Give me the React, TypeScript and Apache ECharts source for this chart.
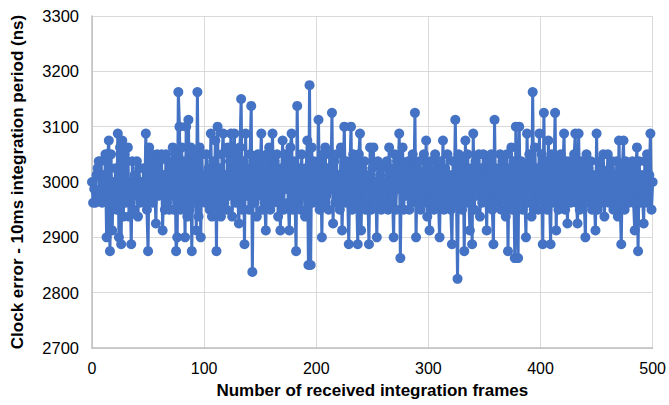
import React, { useEffect, useRef } from "react";
import * as echarts from "echarts";

const xTicks = [0, 100, 200, 300, 400, 500];
const yTicks = [2700, 2800, 2900, 3000, 3100, 3200, 3300];

const clockError: number[] = [
  3000, 2962.5, 2987.5, 2962.5, 3012.5, 3025, 3037.5, 2975, 3037.5, 2962.5, 3012.5, 2975, 3050, 2900, 3050, 3075, 2875, 3050, 2912.5, 3000,
  2962.5, 3025, 2950, 3087.5, 2900, 3062.5, 2887.5, 3075, 2937.5, 3050, 2962.5, 3037.5, 3062.5, 2937.5, 3000, 2887.5, 3037.5, 2950, 3012.5, 2975,
  3037.5, 2937.5, 3025, 2962.5, 3000, 2975, 3025, 2962.5, 3087.5, 2950, 2875, 3062.5, 2975, 3050, 2962.5, 3037.5, 2987.5, 2925, 3050, 2975,
  3037.5, 2987.5, 3050, 2912.5, 3012.5, 2950, 3050, 2962.5, 3037.5, 2950, 3025, 2975, 3062.5, 2950, 3050, 2875, 2900, 3162.5, 3100, 2950,
  3062.5, 2962.5, 3037.5, 2900, 3100, 2937.5, 3112.5, 2950, 3062.5, 2875, 3050, 2962.5, 3037.5, 2912.5, 3162.5, 2937.5, 3062.5, 2900, 3050, 2975,
  3012.5, 2962.5, 3050, 2975, 3025, 2950, 3087.5, 2937.5, 3037.5, 2962.5, 3075, 2875, 3100, 2950, 3025, 2937.5, 3050, 3087.5, 2962.5, 3012.5,
  2950, 3062.5, 2975, 3037.5, 3087.5, 2937.5, 3012.5, 3087.5, 2962.5, 3050, 2975, 2925, 3062.5, 3150, 2950, 3037.5, 2887.5, 3087.5, 2975, 3025,
  2950, 3050, 3137.5, 2837.5, 3037.5, 2962.5, 3025, 2937.5, 3050, 2975, 3012.5, 3087.5, 2950, 3037.5, 2962.5, 2912.5, 3050, 2975, 3062.5, 2950,
  3025, 3087.5, 2962.5, 3037.5, 2975, 3050, 2937.5, 3025, 2912.5, 3000, 3075, 2950, 3050, 2987.5, 3037.5, 2962.5, 2912.5, 3062.5, 3087.5, 2950,
  3037.5, 2975, 2875, 3137.5, 2962.5, 3025, 2950, 3050, 2975, 3012.5, 2937.5, 3025, 3075, 2850, 3175, 2850, 3062.5, 2962.5, 3037.5, 2975,
  3025, 2962.5, 3112.5, 2950, 3037.5, 2900, 3050, 2962.5, 3062.5, 2975, 3025, 2950, 3050, 2987.5, 3125, 2925, 3037.5, 2962.5, 3050, 2975,
  3012.5, 2950, 3062.5, 2912.5, 3000, 3100, 2962.5, 3037.5, 2975, 2887.5, 3025, 3100, 2950, 3050, 2962.5, 3037.5, 2975, 2887.5, 3050, 3087.5,
  2912.5, 3025, 2962.5, 3037.5, 2950, 3012.5, 2975, 2887.5, 3062.5, 2950, 3025, 3062.5, 2962.5, 3000, 2900, 3037.5, 2975, 3012.5, 2950, 3025,
  2962.5, 3000, 2975, 3037.5, 2950, 3062.5, 2962.5, 3025, 2975, 2900, 3050, 2950, 3037.5, 2987.5, 3087.5, 2862.5, 3037.5, 3062.5, 2950, 3012.5,
  2975, 3025, 3037.5, 2950, 3012.5, 2962.5, 3050, 2975, 3125, 2900, 3025, 2962.5, 3037.5, 2950, 3012.5, 2975, 3050, 2962.5, 3075, 2937.5,
  3025, 2912.5, 3037.5, 2962.5, 3012.5, 2950, 3050, 2975, 3025, 2962.5, 2900, 3037.5, 2975, 3075, 2950, 3025, 2962.5, 3050, 2975, 3012.5,
  2950, 2887.5, 3037.5, 2962.5, 3112.5, 2975, 2825, 3050, 2962.5, 3025, 2950, 3037.5, 2875, 3075, 2962.5, 3050, 2975, 2912.5, 3025, 2887.5,
  3087.5, 2950, 3037.5, 2975, 3012.5, 3050, 2937.5, 3025, 2962.5, 3050, 2975, 3025, 2912.5, 3037.5, 2962.5, 3012.5, 3050, 2950, 2887.5, 3112.5,
  2962.5, 3025, 2975, 3012.5, 3050, 2950, 3037.5, 2962.5, 3025, 2937.5, 3050, 2875, 3025, 2962.5, 3062.5, 2950, 3037.5, 2862.5, 3100, 2975,
  2862.5, 3100, 2962.5, 3037.5, 2950, 3025, 2975, 2900, 3087.5, 2962.5, 3050, 2975, 2937.5, 3162.5, 2950, 3062.5, 2962.5, 3025, 2950, 3087.5,
  2975, 3050, 2887.5, 3125, 2962.5, 3037.5, 2950, 3075, 2975, 2887.5, 3050, 2962.5, 3012.5, 3125, 2912.5, 3037.5, 2950, 3012.5, 3050, 2962.5,
  3025, 3087.5, 2950, 3037.5, 2925, 3012.5, 3037.5, 2962.5, 3025, 2975, 3050, 3087.5, 2962.5, 2925, 3087.5, 2950, 3037.5, 2975, 3025, 2962.5,
  2900, 3050, 2962.5, 3025, 2975, 3037.5, 2950, 3012.5, 2962.5, 2912.5, 3087.5, 2950, 3037.5, 2975, 3025, 2962.5, 3050, 2937.5, 3012.5, 2975,
  3050, 2962.5, 3025, 2975, 3037.5, 2950, 3012.5, 2962.5, 3037.5, 2937.5, 3075, 2962.5, 2887.5, 3025, 3075, 2950, 3037.5, 2975, 3012.5, 2962.5,
  3025, 2975, 3037.5, 2962.5, 2912.5, 3025, 3062.5, 2875, 3037.5, 2962.5, 3012.5, 2975, 2925, 3037.5, 2962.5, 3050, 2975, 3012.5, 3087.5, 2950,
  3000,
];

const xTitle = "Number of received integration frames";
const yTitle = "Clock error - 10ms integration period (ns)";

const FONT = "'Liberation Sans', Arial, Helvetica, sans-serif";

export default function App() {
  const ref = useRef<HTMLDivElement>(null);
  useEffect(() => {
    if (!ref.current) return;
    const chart = echarts.init(ref.current, undefined, { renderer: "svg" });
    const points = clockError.map((v, i) => [i, v]);
    chart.setOption({
      animation: false,
      backgroundColor: "#ffffff",
      grid: { left: 92, right: 14, top: 16, bottom: 57, containLabel: false },
      xAxis: {
        type: "value",
        min: xTicks[0],
        max: xTicks[xTicks.length - 1],
        interval: xTicks[1] - xTicks[0],
        name: xTitle,
        nameLocation: "middle",
        nameGap: 34,
        nameTextStyle: { fontFamily: FONT, fontSize: 17, fontWeight: "bold", color: "#000" },
        axisLine: { show: true, lineStyle: { color: "#bfbfbf", width: 1.5 } },
        axisTick: { show: false },
        axisLabel: { fontFamily: FONT, fontSize: 16, color: "#000", margin: 12, formatter: (v: number) => String(v) },
        splitLine: { show: true, lineStyle: { color: "#d9d9d9", width: 1 } },
      },
      yAxis: {
        type: "value",
        min: yTicks[0],
        max: yTicks[yTicks.length - 1],
        interval: yTicks[1] - yTicks[0],
        name: yTitle,
        nameLocation: "middle",
        nameGap: 66,
        nameTextStyle: { fontFamily: FONT, fontSize: 17, fontWeight: "bold", color: "#000" },
        axisLine: { show: true, lineStyle: { color: "#bfbfbf", width: 1.5 } },
        axisTick: { show: false },
        axisLabel: { fontFamily: FONT, fontSize: 16.5, color: "#000", margin: 13, formatter: (v: number) => String(v) },
        splitLine: { show: true, lineStyle: { color: "#d9d9d9", width: 1 } },
      },
      series: [
        {
          type: "line",
          data: points,
          symbol: "circle",
          symbolSize: 10,
          showAllSymbol: true,
          lineStyle: { color: "#4472c4", width: 3 },
          itemStyle: { color: "#4472c4" },
        },
      ],
    });
    return () => chart.dispose();
  }, []);
  return (
    <div
      ref={ref}
      style={{ position: "fixed", left: 0, top: 0, width: 669, height: 405 }}
    />
  );
}
